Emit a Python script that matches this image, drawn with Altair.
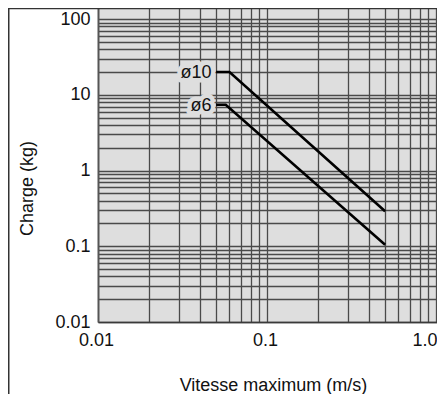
import altair as alt
import pandas as pd

# ---- data ----
series = ["ø10", "ø6"]
vitesse_10 = [0.05, 0.06, 0.5]
charge_10 = [20, 20, 0.29]
vitesse_6 = [0.05, 0.057, 0.5]
charge_6 = [7.4, 7.4, 0.105]

x_grid = [0.01, 0.02, 0.03, 0.04, 0.05, 0.06, 0.07, 0.08, 0.09,
          0.1, 0.2, 0.3, 0.4, 0.5, 0.6, 0.7, 0.8, 0.9, 1.0]
y_grid = [0.01, 0.02, 0.03, 0.04, 0.05, 0.06, 0.07, 0.08, 0.09,
          0.1, 0.2, 0.3, 0.4, 0.5, 0.6, 0.7, 0.8, 0.9,
          1, 2, 3, 4, 5, 6, 7, 8, 9,
          10, 20, 30, 40, 50, 60, 70, 80, 90, 100]
x_tick_values = [0.01, 0.1, 1]
x_tick_labels = ["0.01", "0.1", "1.0"]
y_tick_values = [0.01, 0.1, 1, 10, 100]
y_tick_labels = ["0.01", "0.1", "1", "10", "100"]

rows = []
for name, xs, ys in [(series[0], vitesse_10, charge_10), (series[1], vitesse_6, charge_6)]:
    for i, (xv, yv) in enumerate(zip(xs, ys)):
        rows.append({"serie": name, "idx": i, "vitesse": xv, "charge": yv})
df = pd.DataFrame(rows)


def label_expr(values, labels):
    expr = "''"
    for v, l in reversed(list(zip(values, labels))):
        expr = f"abs(datum.value - {v}) < {v}*1e-6 ? '{l}' : ({expr})"
    return expr


FONT = "Liberation Sans"
BG = "#dedede"
GRID = "#4a4a4a"
EDGE = "#3a3a3a"

x_axis = alt.Axis(
    values=x_grid, labelExpr=label_expr(x_tick_values, x_tick_labels),
    grid=True, gridColor=GRID, gridWidth=1.3, gridOpacity=1,
    ticks=False, tickSize=0, domain=True, domainColor=EDGE, domainWidth=1.5,
    labelOverlap=False, labelFlush=False,
    labelPadding=9, labelFontSize=18, labelColor="#111", labelFont=FONT,
    labelAlign={"condition": {"test": "datum.value == 1", "value": "right"}, "value": "center"},
    labelOffset={"condition": {"test": "datum.value == 1", "value": 1}, "value": -2},
    title="Vitesse maximum (m/s)", titleFontSize=18, titleFont=FONT,
    titleFontWeight="normal", titleColor="#111",
    titleBaseline="alphabetic", titleX=175, titleY=68,
)
y_axis = alt.Axis(
    values=y_grid, labelExpr=label_expr(y_tick_values, y_tick_labels),
    grid=True, gridColor=GRID, gridWidth=1.3, gridOpacity=1,
    ticks=False, tickSize=0, domain=True, domainColor="#555", domainWidth=1.8,
    labelOverlap=False, labelFlush=False,
    labelPadding=8, labelFontSize=18, labelColor="#111", labelFont=FONT,
    labelBaseline="middle",
    title="Charge (kg)", titleFontSize=18, titleFont=FONT,
    titleFontWeight="normal", titleColor="#111",
    titleBaseline="alphabetic", titleAngle=-90, titleX=-66, titleY=180,
)

X = alt.X("vitesse:Q", scale=alt.Scale(type="log", domain=[0.01, 1.014], nice=False), axis=x_axis)
Y = alt.Y("charge:Q", scale=alt.Scale(type="log", domain=[0.01, 140], nice=False), axis=y_axis)

lines = alt.Chart(df).mark_line(color="black", strokeWidth=2.6, clip=True).encode(
    x=X, y=Y, detail="serie:N", order="idx:O"
)

halo = alt.Chart(df).transform_filter("datum.idx == 0").mark_text(
    align="right", baseline="middle", dx=-4.5, dy=1, fontSize=18, font=FONT,
    color=BG, stroke=BG, strokeWidth=9, strokeJoin="round"
).encode(x=X, y=Y, text="serie:N")

labels = alt.Chart(df).transform_filter("datum.idx == 0").mark_text(
    align="right", baseline="middle", dx=-4.5, dy=1, fontSize=18, font=FONT, color="#111"
).encode(x=X, y=Y, text="serie:N")

one = pd.DataFrame({"a": [0]})
frame_left = alt.Chart(one).mark_rule(color="#333", strokeWidth=1.5).encode(
    x=alt.value(-89.25), y=alt.value(0), y2=alt.value(400)
)
frame_top = alt.Chart(one).mark_rule(color="#333", strokeWidth=1.5).encode(
    x=alt.value(-90), x2=alt.value(360), y=alt.value(0.5)
)

chart = alt.layer(halo, lines, labels, frame_left, frame_top).properties(
    width=339, height=314,
    autosize=alt.AutoSizeParams(type="none"),
    padding={"left": 90, "top": 0, "right": 0, "bottom": 72},
    background="white",
).configure_view(
    fill=BG, strokeWidth=0
)

chart.save("out.html", embed_options={"renderer": "svg", "actions": False})
